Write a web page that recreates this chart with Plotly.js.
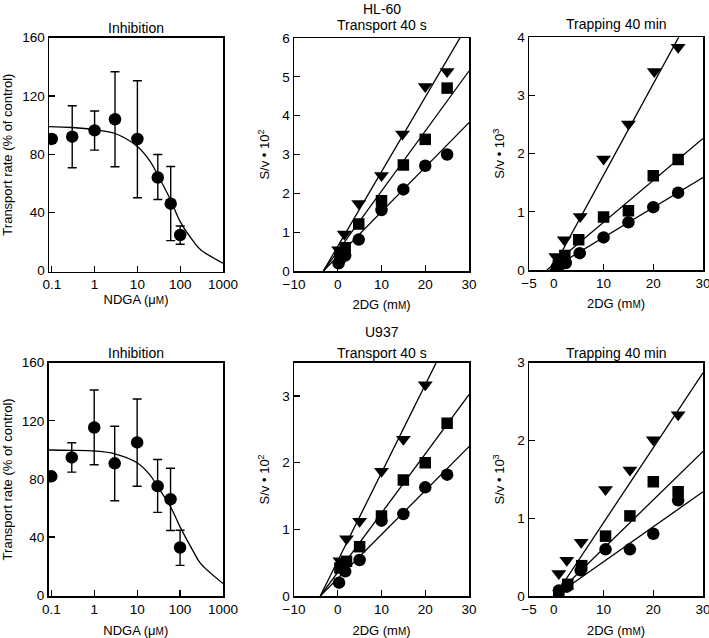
<!DOCTYPE html>
<html>
<head>
<meta charset="utf-8">
<script src="https://cdn.plot.ly/plotly-3.0.1.min.js"></script>
<style>html,body{margin:0;padding:0;background:#fff;}#chart{width:709px;height:638px;}</style>
</head>
<body>
<div id="chart"></div>
<script>
// ---------- Inhibition panels (NDGA, µM) ----------
const ndga = [0.1, 0.3, 1, 3, 10, 30, 60, 100];

const hlInhY      = [90.5, 92, 96.3, 104, 90.4, 64, 46, 24.5];
const hlInhErrUp  = [0, 21.3, 13.4, 32.6, 40, 15.8, 25.5, 6.2];
const hlInhErrDn  = [0, 21.3, 13.5, 32.6, 40.3, 15.1, 25.4, 6.4];
const hlFitX      = [0.085, 0.3, 1, 3, 10, 20, 30, 60, 100, 200, 300, 1000];
const hlFitY      = [98.9, 98.3, 96.8, 94.2, 85.2, 74.9, 65.7, 48.4, 33.7, 20.4, 14.4, 5.1];

const u9InhY      = [81.8, 94.8, 115.4, 90.7, 105.1, 75, 66, 32.8];
const u9InhErrUp  = [0, 10.1, 25.8, 25.6, 29.9, 18.4, 21.3, 11.9];
const u9InhErrDn  = [0, 10.1, 25.7, 25.7, 30.1, 18, 21.5, 12.3];
const u9FitX      = [0.085, 0.3, 1, 3, 10, 20, 30, 60, 100, 200, 300, 1000];
const u9FitY      = [99.9, 99.7, 99.2, 97.3, 91.1, 82.6, 74.6, 60.8, 47, 30.5, 21.8, 8];

// ---------- HL-60 Transport 40 s (S/v x 10^2 vs 2DG mM) ----------
const hlTrTriX = [0.2, 1.5, 4.8, 10, 14.8, 20, 25];
const hlTrTriY = [0.55, 0.95, 1.74, 2.46, 3.53, 4.75, 5.14];
const hlTrSqX  = [0.5, 1.7, 4.8, 10, 15, 20, 25];
const hlTrSqY  = [0.36, 0.6, 1.21, 1.81, 2.73, 3.39, 4.71];
const hlTrCiX  = [0.2, 1.7, 4.8, 10, 15, 20, 25];
const hlTrCiY  = [0.2, 0.4, 0.81, 1.57, 2.1, 2.71, 3.0];
const hlTrLineX = [-3.3, 30];
const hlTrTriLine = [0, 6.4];
const hlTrSqLine  = [0, 5.15];
const hlTrCiLine  = [0, 3.82];

// ---------- HL-60 Trapping 40 min (S/v x 10^3) ----------
const hlTpTriX = [0.4, 2.1, 5.3, 10, 15, 20.2, 25];
const hlTpTriY = [0.23, 0.52, 0.92, 1.91, 2.51, 3.41, 3.83];
const hlTpSqX  = [0.9, 2.2, 5, 10, 15, 20, 25];
const hlTpSqY  = [0.08, 0.25, 0.52, 0.91, 1.02, 1.62, 1.9];
const hlTpCiX  = [0.6, 2.4, 5.2, 10, 15, 20, 25];
const hlTpCiY  = [0.05, 0.12, 0.29, 0.56, 0.82, 1.08, 1.33];
const hlTpTriLineX = [-0.4, 30];
const hlTpTriLine  = [0, 4.77];
const hlTpSqLineX  = [-1.4, 30];
const hlTpSqLine   = [0, 2.26];
const hlTpCiLineX  = [-0.87, 30];
const hlTpCiLine   = [0, 1.59];

// ---------- U937 Transport 40 s (S/v x 10^2) ----------
const u9TrTriX = [0.5, 2, 5, 10, 15, 20];
const u9TrTriY = [0.53, 0.86, 1.12, 1.87, 2.35, 3.17];
const u9TrSqX  = [0.5, 2, 5, 10, 15, 20, 25];
const u9TrSqY  = [0.42, 0.52, 0.74, 1.2, 1.74, 2.0, 2.59];
const u9TrCiX  = [0.3, 1.7, 5, 10, 15, 20, 25];
const u9TrCiY  = [0.2, 0.37, 0.54, 1.13, 1.23, 1.63, 1.82];
const u9TrLineX = [-4.0, 30];
const u9TrTriLine = [0, 4.49];
const u9TrSqLine  = [0, 3.02];
const u9TrCiLine  = [0, 2.24];

// ---------- U937 Trapping 40 min (S/v x 10^3) ----------
const u9TpTriX = [1, 2.6, 5.5, 10.4, 15.3, 20, 25];
const u9TpTriY = [0.29, 0.46, 0.69, 1.37, 1.62, 2.01, 2.33];
const u9TpSqX  = [1, 2.8, 5.6, 10.4, 15.3, 20, 25];
const u9TpSqY  = [0.02, 0.15, 0.39, 0.77, 1.03, 1.47, 1.34];
const u9TpCiX  = [1, 2.6, 5.4, 10.4, 15.3, 20, 25];
const u9TpCiY  = [0.07, 0.12, 0.33, 0.6, 0.6, 0.8, 1.23];
const u9TpLineX = [0.2, 30];
const u9TpTriLine = [0, 2.87];
const u9TpSqLine  = [0, 1.86];
const u9TpCiLine  = [0, 1.34];

// ---------- tick labels ----------
const ndgaTicks = [0.1, 1, 10, 100, 1000];
const ndgaTickText = ['0.1', '1', '10', '100', '1000'];
const inhYTicks = [0, 40, 80, 120, 160];
const trXTicks = [-10, 0, 10, 20, 30];
const tpXTicks = [-5, 0, 10, 20, 30];

const FONT = 'Liberation Sans, Arial, Helvetica, sans-serif';
const K = 'black';

function markers(x, y, sym, size, xa, ya) {
  return {x: x, y: y, xaxis: xa, yaxis: ya, type: 'scatter', mode: 'markers',
    marker: {symbol: sym, size: size, color: K, line: {width: 0}}, cliponaxis: true, hoverinfo: 'skip'};
}
function line(x, y, xa, ya, shape) {
  return {x: x, y: y, xaxis: xa, yaxis: ya, type: 'scatter', mode: 'lines',
    line: {color: K, width: 1.3, shape: shape || 'linear', smoothing: 1}, hoverinfo: 'skip'};
}
function errPts(x, y, up, dn, xa, ya) {
  return {x: x, y: y, xaxis: xa, yaxis: ya, type: 'scatter', mode: 'markers',
    marker: {symbol: 'circle', size: 12.5, color: K},
    error_y: {type: 'data', symmetric: false, array: up, arrayminus: dn, color: K, thickness: 1.4, width: 4.5},
    hoverinfo: 'skip'};
}

const data = [
  // panel 1
  line(hlFitX, hlFitY, 'x', 'y', 'spline'),
  errPts(ndga, hlInhY, hlInhErrUp, hlInhErrDn, 'x', 'y'),
  // panel 2
  line(hlTrLineX, hlTrTriLine, 'x2', 'y2'),
  line(hlTrLineX, hlTrSqLine, 'x2', 'y2'),
  line(hlTrLineX, hlTrCiLine, 'x2', 'y2'),
  markers(hlTrTriX, hlTrTriY, 'triangle-down', 13, 'x2', 'y2'),
  markers(hlTrSqX, hlTrSqY, 'square', 11.5, 'x2', 'y2'),
  markers(hlTrCiX, hlTrCiY, 'circle', 12.5, 'x2', 'y2'),
  // panel 3
  line(hlTpTriLineX, hlTpTriLine, 'x3', 'y3'),
  line(hlTpSqLineX, hlTpSqLine, 'x3', 'y3'),
  line(hlTpCiLineX, hlTpCiLine, 'x3', 'y3'),
  markers(hlTpTriX, hlTpTriY, 'triangle-down', 13, 'x3', 'y3'),
  markers(hlTpSqX, hlTpSqY, 'square', 11.5, 'x3', 'y3'),
  markers(hlTpCiX, hlTpCiY, 'circle', 12.5, 'x3', 'y3'),
  // panel 4
  line(u9FitX, u9FitY, 'x4', 'y4', 'spline'),
  errPts(ndga, u9InhY, u9InhErrUp, u9InhErrDn, 'x4', 'y4'),
  // panel 5
  line(u9TrLineX, u9TrTriLine, 'x5', 'y5'),
  line(u9TrLineX, u9TrSqLine, 'x5', 'y5'),
  line(u9TrLineX, u9TrCiLine, 'x5', 'y5'),
  markers(u9TrTriX, u9TrTriY, 'triangle-down', 13, 'x5', 'y5'),
  markers(u9TrSqX, u9TrSqY, 'square', 11.5, 'x5', 'y5'),
  markers(u9TrCiX, u9TrCiY, 'circle', 12.5, 'x5', 'y5'),
  // panel 6
  line(u9TpLineX, u9TpTriLine, 'x6', 'y6'),
  line(u9TpLineX, u9TpSqLine, 'x6', 'y6'),
  line(u9TpLineX, u9TpCiLine, 'x6', 'y6'),
  markers(u9TpTriX, u9TpTriY, 'triangle-down', 13, 'x6', 'y6'),
  markers(u9TpSqX, u9TpSqY, 'square', 11.5, 'x6', 'y6'),
  markers(u9TpCiX, u9TpCiY, 'circle', 12.5, 'x6', 'y6')
];

const W = 709, H = 638;
function dx(a, b) { return [a / W, b / W]; }
function dy(top, bottom) { return [1 - bottom / H, 1 - top / H]; }

function ax(extra) {
  return Object.assign({
    showline: true, linewidth: 1.5, linecolor: K, mirror: true,
    ticks: 'inside', ticklen: 6, tickwidth: 1.3, tickcolor: K,
    showgrid: false, zeroline: false, fixedrange: true, automargin: false,
    ticklabeloverflow: 'allow',
    tickfont: {family: FONT, size: 13.5, color: K}
  }, extra);
}
const small = (t) => '<span style="font-size:10px">' + t + '</span>';
const ndgaTitle = 'NDGA (μ' + small('M') + ')';
const dgTitle = '2DG (m' + small('M') + ')';
const tf = {family: FONT, size: 13, color: K};

const layout = {
  width: W, height: H,
  margin: {l: 0, r: 0, t: 0, b: 0},
  paper_bgcolor: 'white', plot_bgcolor: 'white',
  showlegend: false,
  font: {family: FONT, color: K},
  xaxis: ax({domain: dx(49, 223), type: 'log', range: [-1.065, 3], tickvals: ndgaTicks, ticktext: ndgaTickText, anchor: 'y',
    title: {text: ndgaTitle, font: tf, standoff: 1}}),
  yaxis: ax({domain: dy(37.7, 271.5), range: [-0.6, 160], tickvals: inhYTicks, anchor: 'x',
    title: {text: 'Transport rate (% of control)', font: tf, standoff: 8}}),
  xaxis2: ax({domain: dx(294, 469), range: [-10, 30], tickvals: trXTicks, anchor: 'y2',
    title: {text: dgTitle, font: tf, standoff: 9}}),
  yaxis2: ax({domain: dy(38, 271), range: [0, 6], dtick: 1, anchor: 'x2',
    title: {text: 'S/v • 10<sup>2</sup>', font: tf, standoff: 9}}),
  xaxis3: ax({domain: dx(529, 703), range: [-5, 30], tickvals: tpXTicks, anchor: 'y3',
    title: {text: dgTitle, font: tf, standoff: 9}}),
  yaxis3: ax({domain: dy(37.3, 270), range: [0, 4], dtick: 1, anchor: 'x3',
    title: {text: 'S/v • 10<sup>3</sup>', font: tf, standoff: 9}}),
  xaxis4: ax({domain: dx(48.5, 223), type: 'log', range: [-1.065, 3], tickvals: ndgaTicks, ticktext: ndgaTickText, anchor: 'y4',
    title: {text: ndgaTitle, font: tf, standoff: 12}}),
  yaxis4: ax({domain: dy(362.7, 596), range: [-0.6, 160], tickvals: inhYTicks, anchor: 'x4',
    title: {text: 'Transport rate (% of control)', font: tf, standoff: 8}}),
  xaxis5: ax({domain: dx(294, 469), range: [-10, 30], tickvals: trXTicks, anchor: 'y5',
    title: {text: dgTitle, font: tf, standoff: 10}}),
  yaxis5: ax({domain: dy(362.7, 596), range: [0, 3.5], dtick: 1, anchor: 'x5',
    title: {text: 'S/v • 10<sup>2</sup>', font: tf, standoff: 9}}),
  xaxis6: ax({domain: dx(529, 703), range: [-5, 30], tickvals: tpXTicks, anchor: 'y6',
    title: {text: dgTitle, font: tf, standoff: 11}}),
  yaxis6: ax({domain: dy(362.7, 596), range: [0, 3], dtick: 1, anchor: 'x6',
    title: {text: 'S/v • 10<sup>3</sup>', font: tf, standoff: 9}}),
  annotations: []
};

function ttl(text, xref, ypx) {
  return {text: text, xref: xref, x: 0.5, yref: 'paper', y: 1 - ypx / H, xanchor: 'center', yanchor: 'middle',
    showarrow: false, font: {family: FONT, size: 14, color: K}};
}
layout.annotations.push(
  ttl('HL-60', 'x2 domain', 9),
  ttl('Inhibition', 'x domain', 28.5),
  ttl('Transport 40 s', 'x2 domain', 25),
  ttl('Trapping 40 min', 'x3 domain', 24),
  ttl('U937', 'x5 domain', 332),
  ttl('Inhibition', 'x4 domain', 353),
  ttl('Transport 40 s', 'x5 domain', 353),
  ttl('Trapping 40 min', 'x6 domain', 353)
);

Plotly.newPlot('chart', data, layout, {staticPlot: true, displayModeBar: false});
</script>
</body>
</html>
